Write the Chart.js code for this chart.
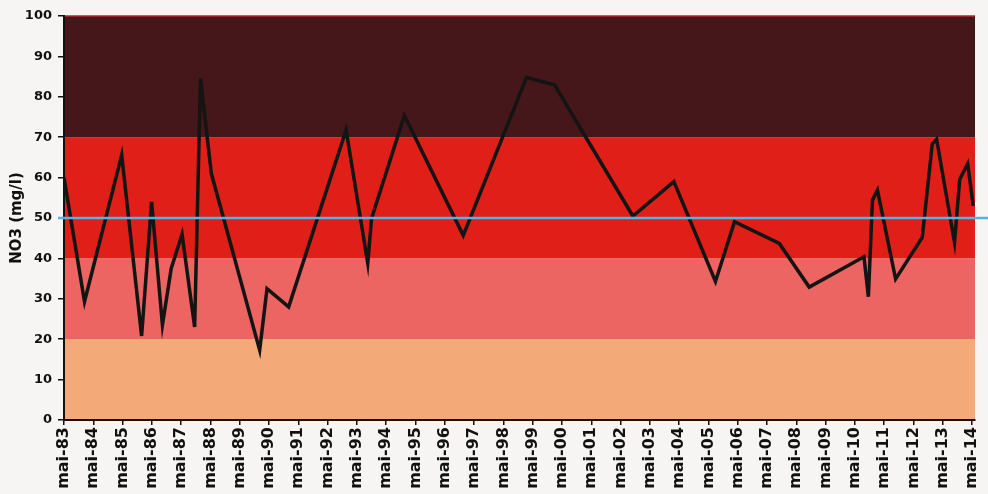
<!DOCTYPE html>
<html>
<head>
<meta charset="utf-8">
<script src="https://cdn.jsdelivr.net/npm/chart.js@4.4.1/dist/chart.umd.min.js"></script>
<style>
  html, body { margin: 0; padding: 0; background: #f6f5f3; }
  #wrap { width: 988px; height: 494px; position: relative; }
</style>
</head>
<body>
<div id="wrap"><canvas id="no3Chart"></canvas></div>
<script>
// sampling dates (decimal years, mai = tick position) and NO3 values (mg/l)
const sampleYears = [
  1983.0, 1983.70, 1984.97, 1985.65, 1985.99, 1986.36, 1986.66, 1987.03, 1987.46, 1987.66,
  1988.03, 1989.68, 1989.93, 1990.67, 1992.63, 1993.37, 1993.50, 1994.62, 1996.63, 1998.79,
  1999.75, 2002.42, 2003.82, 2005.24, 2005.89, 2007.42, 2008.44, 2010.31, 2010.46, 2010.60,
  2010.77, 2011.39, 2012.30, 2012.64, 2012.79, 2013.40, 2013.58, 2013.85, 2014.04
];
const no3Values = [
  60, 29.3, 65.6, 20.8, 54, 23.5, 37.5, 46, 23, 84.5,
  61, 17.3, 32.5, 28, 71.8, 38.8, 49.9, 75.4, 45.7, 84.8,
  82.9, 50.5, 59, 34.3, 49.1, 43.7, 32.9, 40.4, 30.5, 54.4,
  56.9, 34.9, 45.2, 68.3, 69.5, 44, 59.6, 63.4, 53
];

// x tick positions and labels
const tickYears = [];
const tickLabels = [];
for (let y = 1983; y <= 2014; y++) {
  tickYears.push(y);
  tickLabels.push("mai-" + String(y % 100).padStart(2, "0"));
}

// quality classes (background bands) and threshold
const bandLimits = [0, 20, 40, 70, 100];
const bandColors = ["#f4aa78", "#ec6562", "#df1f18", "#46171a"];
const threshold = 50;

// draw the coloured classes behind everything
const bandsPlugin = {
  id: "bands",
  beforeDraw(chart) {
    const { ctx, chartArea, scales } = chart;
    const y = scales.y;
    ctx.save();
    for (let i = 0; i < bandColors.length; i++) {
      const top = y.getPixelForValue(bandLimits[i + 1]);
      const bot = y.getPixelForValue(bandLimits[i]);
      ctx.fillStyle = bandColors[i];
      ctx.fillRect(chartArea.left, top, chartArea.right - chartArea.left, bot - top);
    }
    // thin red edge on top
    ctx.strokeStyle = "#b8262c";
    ctx.lineWidth = 1.5;
    ctx.beginPath();
    ctx.moveTo(chartArea.left, chartArea.top);
    ctx.lineTo(chartArea.right, chartArea.top);
    ctx.stroke();
    ctx.restore();
  }
};

// blue 50 mg/l line, runs out past the plot to the right
const thresholdPlugin = {
  id: "threshold",
  afterDatasetsDraw(chart) {
    const { ctx, chartArea, scales } = chart;
    const py = scales.y.getPixelForValue(threshold);
    ctx.save();
    ctx.strokeStyle = "#52b3e8";
    ctx.lineWidth = 2.5;
    ctx.beginPath();
    ctx.moveTo(chartArea.left - 6, py);
    ctx.lineTo(chart.width, py);
    ctx.stroke();
    ctx.restore();
  }
};

const ctx = document.getElementById("no3Chart");
new Chart(ctx, {
  type: "line",
  data: {
    datasets: [{
      label: "NO3",
      data: sampleYears.map((x, i) => ({ x, y: no3Values[i] })),
      borderColor: "#141414",
      borderWidth: 3.5,
      pointRadius: 0,
      tension: 0,
      fill: false
    }]
  },
  options: {
    responsive: true,
    maintainAspectRatio: false,
    animation: false,
    layout: { padding: { top: 16, right: 13, left: 0, bottom: 0 } },
    plugins: {
      legend: { display: false },
      tooltip: { enabled: false }
    },
    scales: {
      x: {
        type: "linear",
        min: 1983,
        max: 2014.1,
        afterBuildTicks: s => { s.ticks = tickYears.map(v => ({ value: v })); },
        afterFit: s => { s.height = 74; s.paddingLeft = 0; s.paddingRight = 0; },
        grid: { drawOnChartArea: false, drawTicks: true, tickLength: 5, color: "#111", lineWidth: 1.5 },
        border: { display: true, color: "#111", width: 2 },
        ticks: {
          autoSkip: false,
          includeBounds: false,
          minRotation: 90,
          maxRotation: 90,
          padding: 2,
          color: "#111",
          font: { family: "DejaVu Sans", weight: "bold", size: 16 },
          callback: v => tickLabels[tickYears.indexOf(v)]
        }
      },
      y: {
        min: 0,
        max: 100,
        afterFit: s => { s.width = 64; },
        grid: { drawOnChartArea: false, drawTicks: true, tickLength: 6, color: "#111", lineWidth: 1.5 },
        border: { display: true, color: "#111", width: 2 },
        ticks: {
          stepSize: 10,
          padding: 6,
          color: "#111",
          font: { family: "DejaVu Sans", weight: "bold", size: 13 }
        },
        title: {
          display: true,
          text: "NO3 (mg/l)",
          color: "#111",
          padding: { top: 8, bottom: 0 },
          font: { family: "DejaVu Sans", weight: "bold", size: 15 }
        }
      }
    }
  },
  plugins: [bandsPlugin, thresholdPlugin]
});
</script>
</body>
</html>
